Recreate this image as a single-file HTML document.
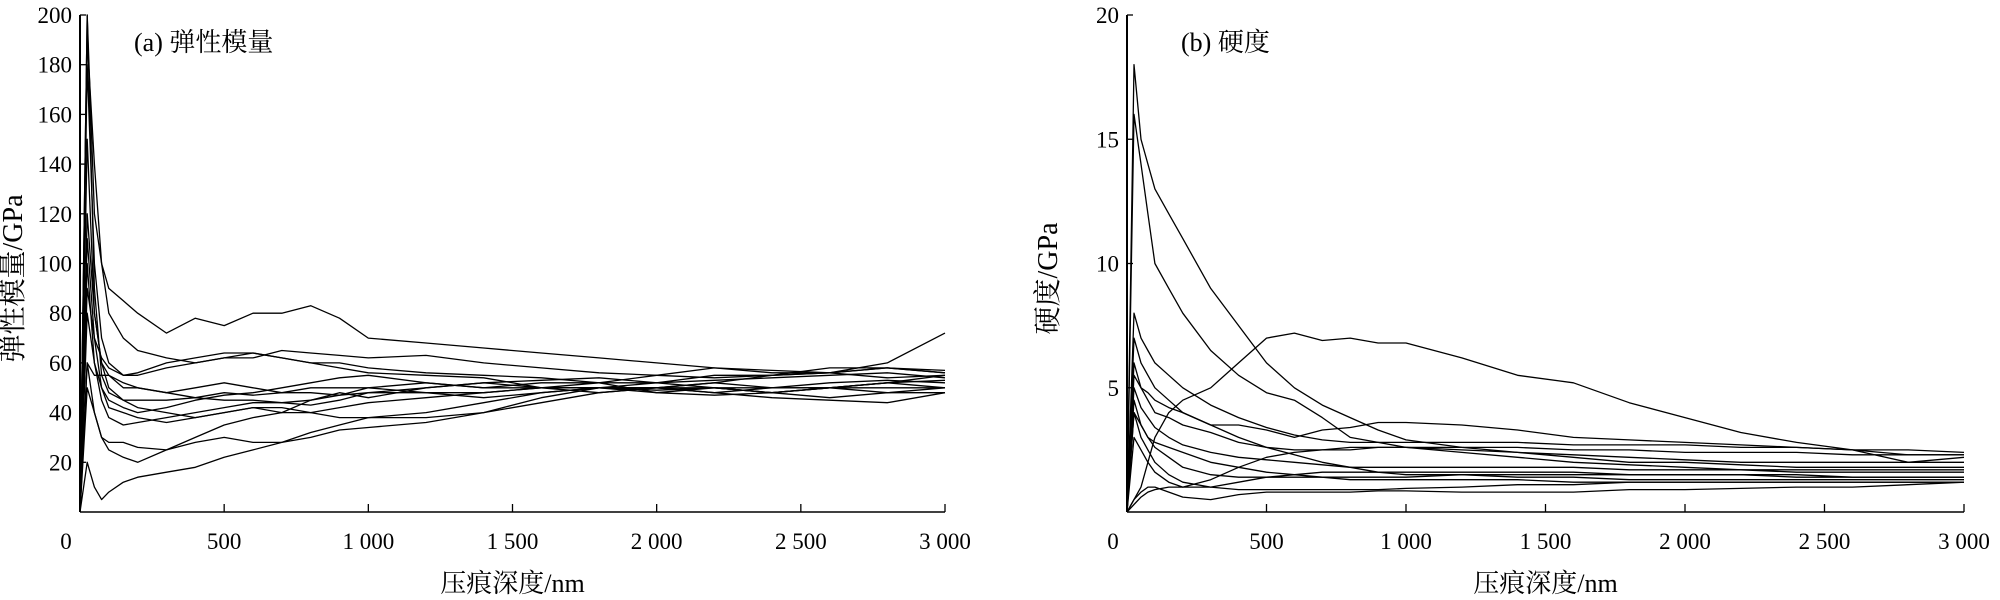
<!DOCTYPE html>
<html><head><meta charset="utf-8"><style>
html,body{margin:0;padding:0;background:#fff;}
svg{display:block;}
text{font-family:"Liberation Serif","Noto Serif CJK SC",serif;fill:#000;}
</style></head><body>
<svg id="chart" width="2000" height="600" viewBox="0 0 2000 600" xmlns="http://www.w3.org/2000/svg"></svg>
<script>
const depths=[0,25,50,75,100,150,200,300,400,500,600,700,800,900,1000,1200,1400,1600,1800,2000,2200,2400,2600,2800,3000];
const xTicks=[0,500,1000,1500,2000,2500,3000];
const xTickLabels=["0","500","1 000","1 500","2 000","2 500","3 000"];
const modTicks=[20,40,60,80,100,120,140,160,180,200];
const hardTicks=[5,10,15,20];
const modulusSeries=[
[0,200,120,100,90,85,80,72,78,75,80,80,83,78,70,68,66,64,62,60,58,57,56,58,56],
[0,190,140,100,80,70,65,62,60,62,62,65,64,63,62,63,60,58,56,55,54,55,56,58,57],
[0,180,100,70,60,55,55,58,60,62,64,62,60,60,58,56,55,54,52,52,53,54,55,56,54],
[0,120,80,60,55,50,50,48,50,52,50,48,48,47,50,52,50,50,48,50,48,50,50,52,50],
[0,100,60,50,45,42,40,42,45,47,48,50,52,54,55,52,50,52,52,48,50,50,52,53,52],
[0,60,55,55,55,52,50,48,46,45,45,44,43,45,48,50,52,50,50,52,50,48,50,52,55],
[0,80,60,45,38,35,36,38,40,42,44,44,45,48,46,50,52,53,54,52,55,55,58,58,56],
[0,50,40,30,25,22,20,25,30,35,38,40,45,47,48,48,46,48,50,50,52,55,56,60,72],
[0,20,10,5,8,12,14,16,18,22,25,28,32,35,38,40,44,48,50,50,52,50,50,48,48],
[0,60,40,30,28,28,26,25,28,30,28,28,30,33,34,36,40,46,50,50,48,46,45,44,48],
[0,150,80,60,50,45,42,40,38,40,42,40,40,38,38,38,40,44,48,50,50,48,46,48,50],
[0,90,70,62,58,55,56,60,62,64,64,62,60,58,56,55,54,50,52,55,58,56,56,54,55],
[0,200,90,55,48,45,45,45,46,48,47,48,50,50,50,48,48,50,50,48,47,48,50,50,50],
[0,110,70,50,42,40,38,36,38,40,42,42,40,42,44,46,48,50,50,49,50,48,50,52,53]
];
const hardnessSeries=[
[0,18,15,14,13,12,11,9,7.5,6,5,4.3,3.8,3.3,2.9,2.6,2.4,2.3,2.2,2.1,2.0,2.0,2.0,2.0,2.0],
[0,16,14,12,10,9,8,6.5,5.5,4.8,4.5,3.8,3.0,2.8,2.6,2.4,2.2,2.0,1.9,1.8,1.7,1.6,1.6,1.6,1.6],
[0,0.5,1,2,3,4,4.5,5,6,7,7.2,6.9,7,6.8,6.8,6.2,5.5,5.2,4.4,3.8,3.2,2.8,2.5,2.0,2.2],
[0,8,7,6.5,6,5.5,5,4.3,3.8,3.4,3.1,2.9,2.8,2.8,2.8,2.8,2.8,2.7,2.7,2.7,2.6,2.6,2.5,2.5,2.4],
[0,7,6,5.5,5,4.5,4,3.5,3.5,3.3,3.0,3.3,3.4,3.6,3.6,3.5,3.3,3.0,2.9,2.8,2.7,2.6,2.5,2.3,2.3],
[0,6,5,4.5,4,3.8,3.5,3.2,2.8,2.6,2.5,2.5,2.5,2.6,2.6,2.6,2.6,2.5,2.5,2.4,2.4,2.4,2.3,2.3,2.3],
[0,5,4.2,3.8,3.4,3.0,2.7,2.4,2.2,2.1,2.0,1.9,1.8,1.8,1.8,1.8,1.8,1.8,1.7,1.7,1.7,1.7,1.7,1.7,1.7],
[0,4.5,3.5,3,2.6,2.2,1.8,1.5,1.4,1.4,1.4,1.4,1.4,1.4,1.4,1.5,1.5,1.5,1.5,1.5,1.5,1.5,1.4,1.4,1.4],
[0,4,3,2.5,2,1.5,1.2,1.0,1.2,1.4,1.5,1.6,1.6,1.6,1.6,1.6,1.6,1.6,1.5,1.5,1.5,1.4,1.4,1.4,1.4],
[0,0.5,0.8,1.0,1.0,0.8,0.6,0.5,0.7,0.8,0.8,0.8,0.8,0.85,0.85,0.8,0.8,0.8,0.9,0.9,0.95,1.0,1.0,1.1,1.2],
[0,0.3,0.6,0.8,0.9,1.0,1.0,1.0,0.9,0.9,0.9,0.9,0.9,0.9,0.95,1.0,1.1,1.1,1.2,1.2,1.2,1.2,1.2,1.2,1.2],
[0,3,2.5,2,1.6,1.2,1.0,1.3,1.8,2.2,2.4,2.5,2.6,2.6,2.6,2.5,2.4,2.2,2.0,2.0,1.9,1.8,1.8,1.8,1.8],
[0,5.5,5,4.8,4.5,4.2,4,3.5,3.0,2.6,2.3,2.0,1.8,1.6,1.5,1.5,1.4,1.4,1.3,1.3,1.3,1.3,1.3,1.3,1.3],
[0,4,3.5,3,2.8,2.6,2.4,2.0,1.8,1.6,1.5,1.4,1.3,1.3,1.3,1.3,1.3,1.2,1.2,1.2,1.2,1.2,1.2,1.2,1.2]
];
const svg=document.getElementById('chart');
const NS='http://www.w3.org/2000/svg';
function mk(tag,attrs,parent){const e=document.createElementNS(NS,tag);for(const k in attrs)e.setAttribute(k,attrs[k]);parent.appendChild(e);return e;}
function panel(cfg){
  const g=mk('g',{},svg);
  
  
  const xs=v=>cfg.x0+(v/3000)*(cfg.x1-cfg.x0);
  const ys=v=>cfg.yb-(v/cfg.ymax)*(cfg.yb-cfg.yt);
  cfg.series.forEach((s,i)=>{
    const d=s.map((v,j)=>(j?'L':'M')+xs(depths[j]).toFixed(1)+' '+ys(v).toFixed(1)).join(' ');
    const p=mk('path',{d:d,fill:'none',stroke:'#000','stroke-width':1.3,'stroke-linejoin':'round'},g);
    
    
  });
  const ya=mk('line',{x1:cfg.x0,y1:cfg.yt,x2:cfg.x0,y2:cfg.yb,stroke:'#000','stroke-width':2},g);
  
  
  const xa=mk('line',{x1:cfg.x0,y1:cfg.yb,x2:cfg.x1,y2:cfg.yb,stroke:'#000','stroke-width':1.5},g);
  
  
  xTicks.forEach((t,i)=>{
    mk('line',{x1:xs(t),y1:cfg.yb,x2:xs(t),y2:cfg.yb-8,stroke:'#000','stroke-width':1.3},g);
    const tx=mk('text',{x:xs(t)+(i===0?-14:0),y:cfg.yb+37,'font-size':23,'text-anchor':'middle'},g);
    tx.textContent=xTickLabels[i];
    
    
  });
  cfg.yticks.forEach(t=>{
    mk('line',{x1:cfg.x0,y1:ys(t),x2:cfg.x0+6,y2:ys(t),stroke:'#000','stroke-width':1.3},g);
    const tx=mk('text',{x:cfg.x0-8,y:ys(t)+8,'font-size':23,'text-anchor':'end'},g);
    tx.textContent=String(t);
    
    
  });
  const xt=mk('text',{x:(cfg.x0+cfg.x1)/2,y:592,'font-size':26,'text-anchor':'middle'},g);
  xt.textContent='压痕深度/nm';
  
  
  const yt=mk('text',{x:0,y:0,'font-size':28,'text-anchor':'middle',transform:'translate('+cfg.ytx+','+((cfg.yt+cfg.yb)/2+15)+') rotate(-90)'},g);
  yt.textContent=cfg.ytitle;
  
  
  const pt=mk('text',{x:cfg.x0+54,y:51,'font-size':26},g);
  pt.textContent=cfg.title;
  
  
}
panel({name:'modulus-chart',prefix:'modulus',x0:80,x1:945,yt:15,yb:512,ymax:200,yticks:modTicks,series:modulusSeries,ytitle:'弹性模量/GPa',ytx:22,title:'(a) 弹性模量'});
panel({name:'hardness-chart',prefix:'hardness',x0:1127,x1:1964,yt:15,yb:512,ymax:20,yticks:hardTicks,series:hardnessSeries,ytitle:'硬度/GPa',ytx:1057,title:'(b) 硬度'});
</script>
</body></html>
